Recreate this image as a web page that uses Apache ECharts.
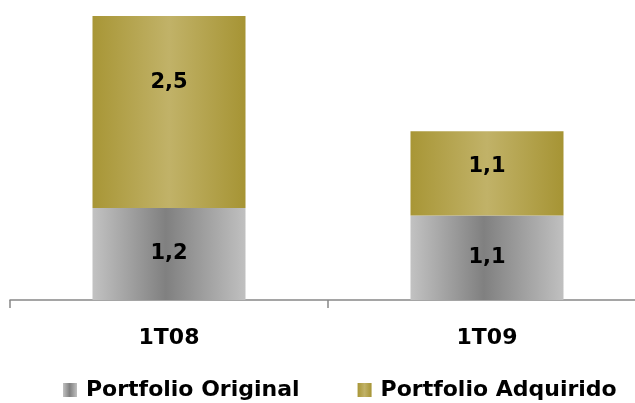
<!DOCTYPE html>
<html>
<head>
<meta charset="utf-8">
<script src="https://cdn.jsdelivr.net/npm/echarts@6/dist/echarts.min.js"></script>
<style>
  html, body { margin: 0; padding: 0; background: #ffffff; }
  #chart { width: 635px; height: 403px; }
</style>
</head>
<body>
<div id="chart"></div>
<script>
// Quarters shown on the category axis
const categories = ['1T08', '1T09'];
// Portfolio values (stacked)
const originalValues = [1.2, 1.1];
const acquiredValues = [2.5, 1.1];
const seriesNames = ['Portfolio Original', 'Portfolio Adquirido'];

const FONT = 'DejaVu Sans';

const grayFill = new echarts.graphic.LinearGradient(0, 0, 1, 0, [
  { offset: 0, color: '#c2c2c2' },
  { offset: 0.48, color: '#808080' },
  { offset: 1, color: '#c0c0c0' }
]);
const goldFill = new echarts.graphic.LinearGradient(0, 0, 1, 0, [
  { offset: 0, color: '#a89636' },
  { offset: 0.5, color: '#c1b268' },
  { offset: 1, color: '#a69434' }
]);

const labelStyle = {
  show: true,
  position: 'inside',
  color: '#000',
  fontFamily: FONT,
  fontWeight: 'bold',
  fontSize: 21,
  formatter: p => String(p.value).replace('.', ',')
};

// upper label offsets for the acquired segments
const acquiredLabelOffsets = [[0, -29], [0, -7]];

const chart = echarts.init(document.getElementById('chart'), null, { renderer: 'canvas' });
chart.setOption({
  animation: false,
  grid: { left: 10, width: 636, top: 16, bottom: 103, containLabel: false, outerBoundsMode: 'none' },
  legend: {
    data: seriesNames,
    left: 58,
    top: 374,
    icon: 'rect',
    itemWidth: 14,
    itemHeight: 14,
    itemGap: 58,
    textStyle: {
      fontFamily: FONT,
      fontWeight: 'bold',
      fontSize: 22,
      color: '#000',
      padding: [0, 0, 0, 4]
    }
  },
  xAxis: {
    type: 'category',
    data: categories,
    axisLine: { lineStyle: { color: '#888888', width: 1.5 } },
    axisTick: { show: true, length: 8, lineStyle: { color: '#888888', width: 1.5 } },
    axisLabel: {
      margin: 27,
      color: '#000',
      fontFamily: FONT,
      fontWeight: 'bold',
      fontSize: 22
    }
  },
  yAxis: {
    type: 'value',
    min: 0,
    max: 3.7,
    show: false,
    splitLine: { show: false }
  },
  series: [
    {
      name: seriesNames[0],
      type: 'bar',
      stack: 'total',
      barWidth: 153,
      itemStyle: { color: grayFill },
      label: labelStyle,
      data: originalValues
    },
    {
      name: seriesNames[1],
      type: 'bar',
      stack: 'total',
      barWidth: 153,
      itemStyle: { color: goldFill },
      label: labelStyle,
      data: acquiredValues.map((v, i) => ({
        value: v,
        label: { offset: acquiredLabelOffsets[i] }
      }))
    }
  ]
});
</script>
</body>
</html>
